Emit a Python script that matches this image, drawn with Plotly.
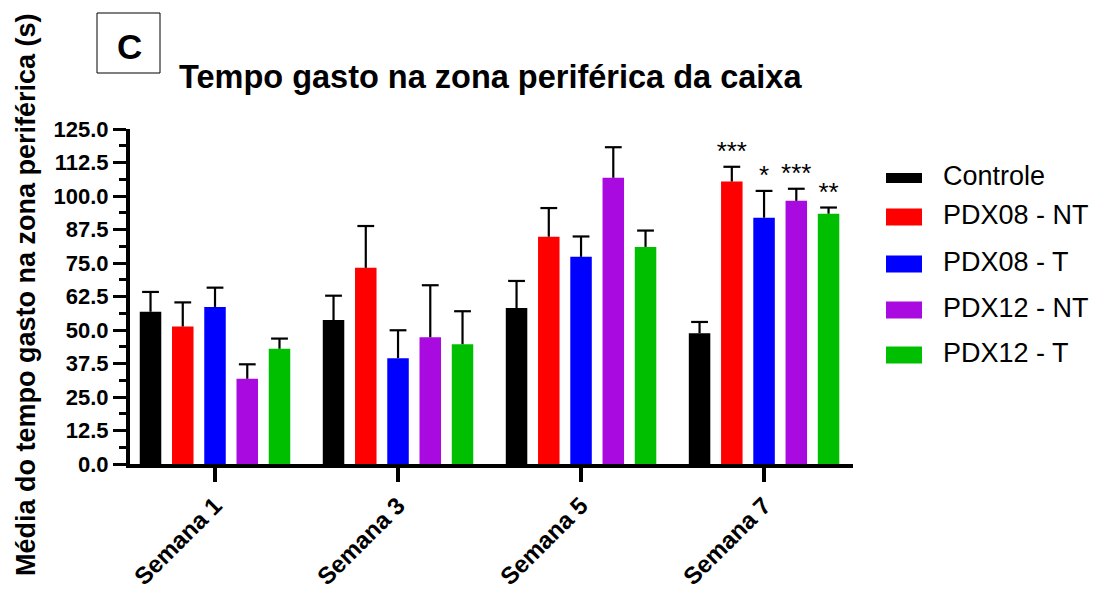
import plotly.graph_objects as go

# Data: mean time (s) spent in the peripheral zone, with SEM
weeks = ["Semana 1", "Semana 3", "Semana 5", "Semana 7"]
groups = ["Controle", "PDX08 - NT", "PDX08 - T", "PDX12 - NT", "PDX12 - T"]
colors = ["#000000", "#FF0000", "#0000FF", "#A90AE0", "#00BF00"]

controle_mean = [56.8, 53.7, 58.2, 48.8]
pdx08_nt_mean = [51.3, 73.2, 84.8, 105.4]
pdx08_t_mean = [58.6, 39.5, 77.3, 91.9]
pdx12_nt_mean = [31.8, 47.3, 106.8, 98.2]
pdx12_t_mean = [43.0, 44.7, 81.0, 93.4]

controle_sem = [7.4, 9.1, 10.1, 4.2]
pdx08_nt_sem = [9.0, 15.6, 10.7, 5.5]
pdx08_t_sem = [7.2, 10.4, 7.6, 10.0]
pdx12_nt_sem = [5.4, 19.4, 11.4, 4.5]
pdx12_t_sem = [3.8, 12.3, 6.1, 2.3]

# Significance marks vs. control (Semana 7 only)
signif_semana7 = ["", "***", "*", "***", "**"]

y_ticks = [0, 12.5, 25, 37.5, 50, 62.5, 75, 87.5, 100, 112.5, 125]

means = [controle_mean, pdx08_nt_mean, pdx08_t_mean, pdx12_nt_mean, pdx12_t_mean]
sems = [controle_sem, pdx08_nt_sem, pdx08_t_sem, pdx12_nt_sem, pdx12_t_sem]

# Figure geometry
W, H = 1099, 590
L, R, T, B = 130, 246, 129, 126
PW, PH = W - L - R, H - T - B


def px2x(px):
    return (px - L) / PW


def px2y(py):
    return (H - B - py) / PH


FONT = "Liberation Sans, Arial, sans-serif"
slot = 0.1762      # distance between bar centres within a week (x units)
bar_w = 0.1175     # bar width (x units)

fig = go.Figure()
n = len(groups)
positions = []
for i, (name, col, m) in enumerate(zip(groups, colors, means)):
    xs = [k + (i - (n - 1) / 2) * slot for k in range(len(weeks))]
    positions.append(xs)
    fig.add_trace(go.Bar(
        x=xs, y=m, width=bar_w, name=name,
        marker=dict(color=col, line=dict(width=0)),
        showlegend=False, hoverinfo="skip",
    ))

# Upper-only SEM whiskers: stem from bar top plus a cap at the end
for i, (xs, m, s) in enumerate(zip(positions, means, sems)):
    lx, ly = [], []
    for x, mv, sv in zip(xs, m, s):
        lx += [x, x, None]
        ly += [mv, mv + sv, None]
    fig.add_trace(go.Scatter(x=lx, y=ly, mode="lines",
                             line=dict(color="#000000", width=2.2),
                             showlegend=False, hoverinfo="skip"))
    fig.add_trace(go.Scatter(x=xs, y=[mv + sv for mv, sv in zip(m, s)], mode="markers",
                             marker=dict(symbol="line-ew", size=12,
                                         line=dict(color="#000000", width=2.2)),
                             showlegend=False, hoverinfo="skip"))
    if signif_semana7[i]:
        k = weeks.index("Semana 7")
        fig.add_trace(go.Scatter(
            x=[xs[k]], y=[m[k] + s[k]], mode="text", text=[signif_semana7[i]],
            textposition="top center",
            textfont=dict(family=FONT, size=26, color="#000000"),
            showlegend=False, hoverinfo="skip",
        ))

shapes = []
annotations = []

# Legend drawn as coloured blocks with labels
legend_rows = [178, 217, 264, 310, 355]
legend_heights = [10, 17, 17, 17, 17]
for name, col, cy, hh in zip(groups, colors, legend_rows, legend_heights):
    shapes.append(dict(type="rect", xref="paper", yref="paper",
                       x0=px2x(886), x1=px2x(922), y0=px2y(cy + hh / 2), y1=px2y(cy - hh / 2),
                       fillcolor=col, line=dict(width=0)))
    annotations.append(dict(xref="paper", yref="paper", x=px2x(941), y=px2y(cy - 2),
                            text=name, showarrow=False, xanchor="left", yanchor="middle",
                            font=dict(family=FONT, size=27, color="#000000")))

# Panel letter box
shapes.append(dict(type="rect", xref="paper", yref="paper",
                   x0=px2x(97), x1=px2x(160), y0=px2y(73), y1=px2y(13),
                   fillcolor="rgba(0,0,0,0)", line=dict(color="#000000", width=1)))
annotations.append(dict(xref="paper", yref="paper", x=px2x(129), y=px2y(46),
                        text="<b>C</b>", showarrow=False, xanchor="center", yanchor="middle",
                        font=dict(family=FONT, size=35, color="#000000")))

# Title
annotations.append(dict(xref="paper", yref="paper", x=px2x(490), y=px2y(77),
                        text="<b>Tempo gasto na zona periférica da caixa</b>", showarrow=False,
                        xanchor="center", yanchor="middle",
                        font=dict(family=FONT, size=32.5, color="#000000")))

# Y-axis title
annotations.append(dict(xref="paper", yref="paper", x=px2x(26), y=px2y(295),
                        text="<b>Média do tempo gasto na zona periférica (s)</b>", showarrow=False,
                        textangle=-90, xanchor="center", yanchor="middle",
                        font=dict(family=FONT, size=27, color="#000000")))

fig.update_layout(
    width=W, height=H,
    margin=dict(l=L, r=R, t=T, b=B, pad=0, autoexpand=False),
    paper_bgcolor="white", plot_bgcolor="white",
    barmode="overlay",
    shapes=shapes, annotations=annotations,
    font=dict(family=FONT, color="#000000"),
    xaxis=dict(
        range=[-0.4645, 3.486], automargin=False,
        tickmode="array", tickvals=list(range(len(weeks))),
        ticktext=[f"<b>{w}</b>" for w in weeks],
        tickangle=-45, ticks="outside", ticklen=14, tickwidth=4, tickcolor="#000000",
        showline=True, linewidth=4, linecolor="#000000",
        showgrid=False, zeroline=False,
        tickfont=dict(family=FONT, size=24, color="#000000"),
    ),
    yaxis=dict(
        range=[0, 125], automargin=False,
        tickmode="array", tickvals=y_ticks,
        ticktext=[f"<b>{v:.1f}</b>" for v in y_ticks],
        ticks="outside", ticklen=13, tickwidth=3, tickcolor="#000000",
        minor=dict(tickmode="linear", tick0=0, dtick=6.25, ticks="outside",
                   ticklen=7, tickwidth=3, tickcolor="#000000", showgrid=False),
        showline=True, linewidth=4, linecolor="#000000",
        showgrid=False, zeroline=False,
        tickfont=dict(family=FONT, size=22, color="#000000"),
    ),
)

fig.write_html("out.html")
